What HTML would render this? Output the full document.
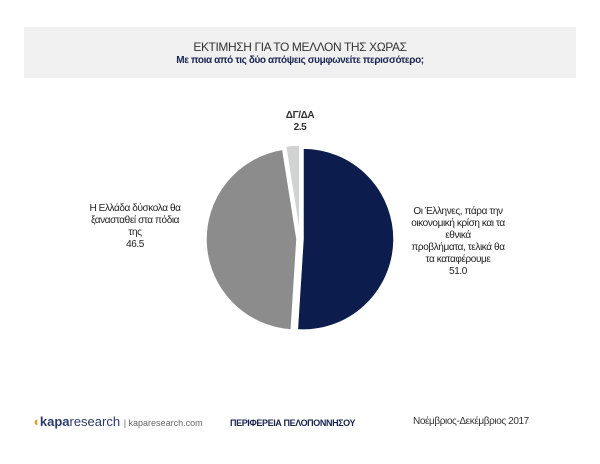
<!DOCTYPE html>
<html><head><meta charset="utf-8">
<style>
body{margin:0;width:600px;height:464px;background:#fff;position:relative;font-family:"Liberation Sans","DejaVu Sans",sans-serif;overflow:hidden}
.t{position:absolute;text-align:center}
.c{letter-spacing:-0.4px}
</style></head>
<body>
<div style="position:absolute;left:24px;top:27px;width:552px;height:51px;background:#f0f0f0"></div>
<div class="t c" style="left:0;width:600px;top:40px;font-size:12px;color:#333">ΕΚΤΙΜΗΣΗ ΓΙΑ ΤΟ ΜΕΛΛΟΝ ΤΗΣ ΧΩΡΑΣ</div>
<div class="t c" style="left:0;width:600px;top:55px;font-size:10px;font-weight:bold;color:#1a2550">Με ποια από τις δύο απόψεις συμφωνείτε περισσότερο;</div>
<svg id="pie" width="600" height="464" style="position:absolute;left:0;top:0"></svg>
<div class="t c" style="left:260px;width:80px;top:110px;font-size:10px;font-weight:bold;color:#333;line-height:12px">ΔΓ/ΔΑ<br>2.5</div>
<div class="t c" style="left:70px;width:130px;top:203px;font-size:10px;color:#222;line-height:12px">Η Ελλάδα δύσκολα θα<br>ξανασταθεί στα πόδια<br>της<br>46.5</div>
<div class="t c" style="left:393px;width:130px;top:206px;font-size:10px;color:#222;line-height:12px">Οι Έλληνες, πάρα την<br>οικονομική κρίση και τα<br>εθνικά<br>προβλήματα, τελικά θα<br>τα καταφέρουμε<br>51.0</div>
<div style="position:absolute;left:32px;top:414px;font-size:13px;color:#555"><span style="color:#e8a030">◖</span><b style="color:#2a3b6a">kapa</b><span style="color:#2a3b6a">research</span> <span style="font-size:9px;color:#666">| kaparesearch.com</span></div>
<div class="c" style="position:absolute;left:230px;top:418px;font-size:9px;font-weight:bold;color:#1a2550">ΠΕΡΙΦΕΡΕΙΑ ΠΕΛΟΠΟΝΝΗΣΟΥ</div>
<div class="c" style="position:absolute;left:413px;top:416px;font-size:10px;color:#333">Νοέμβριος-Δεκέμβριος 2017</div>
<script>
const categories=["Οι Έλληνες θα τα καταφέρουμε","Η Ελλάδα δύσκολα θα ξανασταθεί","ΔΓ/ΔΑ"];
const values=[51.0,46.5,2.5];
const colors=["#0c1d4d","#8c8c8c","#d2d2d2"];
const svg=document.getElementById('pie');
const cx=300,cy=239,r=91,off=3;
const total=values.reduce((a,b)=>a+b,0);
let a0=0;
values.forEach((v,i)=>{
  const a1=a0+v/total*2*Math.PI, am=(a0+a1)/2;
  const dx=off*Math.sin(am), dy=-off*Math.cos(am);
  const x=cx+dx,y=cy+dy;
  const p0=[x+r*Math.sin(a0),y-r*Math.cos(a0)],p1=[x+r*Math.sin(a1),y-r*Math.cos(a1)];
  const path=document.createElementNS('http://www.w3.org/2000/svg','path');
  path.setAttribute('d',`M${x},${y}L${p0[0]},${p0[1]}A${r},${r} 0 ${a1-a0>Math.PI?1:0} 1 ${p1[0]},${p1[1]}Z`);
  path.setAttribute('fill',colors[i]);
  path.setAttribute('stroke','#fff');
  path.setAttribute('stroke-width','1.5');
  
  
  svg.appendChild(path);
  a0=a1;
});
</script>
</body></html>
